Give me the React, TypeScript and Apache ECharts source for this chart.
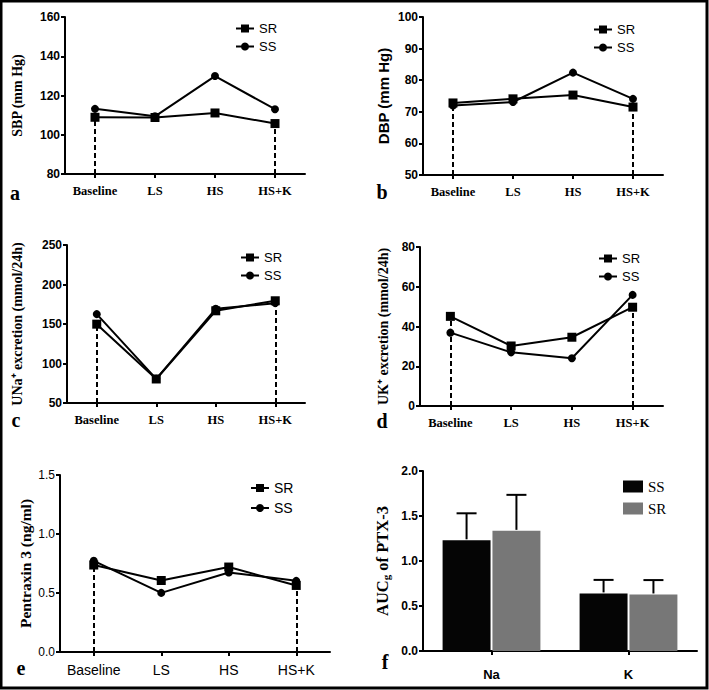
import React, { useEffect, useRef } from "react";
import * as echarts from "echarts";

const categories = ["Baseline", "LS", "HS", "HS+K"];
const sbpSR = [108.9, 108.8, 111.1, 105.7];
const sbpSS = [113.2, 109.4, 129.9, 113.0];
const dbpSR = [72.8, 74.1, 75.3, 71.5];
const dbpSS = [72.0, 73.1, 82.4, 74.1];
const unaSR = [149.8, 80.4, 166.7, 179.4];
const unaSS = [162.5, 80.6, 169.2, 176.4];
const ukSR = [45.1, 30.2, 34.6, 49.7];
const ukSS = [36.9, 27.0, 24.0, 55.9];
const ptxSR = [0.737, 0.606, 0.72, 0.564];
const ptxSS = [0.773, 0.501, 0.674, 0.603];

const aucCategories = ["Na", "K"];
const aucSS = [1.23, 0.64];
const aucSSErr = [0.3, 0.15];
const aucSR = [1.335, 0.628];
const aucSRErr = [0.4, 0.16];

const SERIF = "Liberation Serif, Times New Roman, serif";
const SANS = "Liberation Sans, Arial, sans-serif";

type Panel = {
  grid: { left: number; top: number; width: number; height: number };
  yMin: number;
  yMax: number;
  yInterval: number;
  yName: string;
  yNameFont: string;
  yNameSize: number;
  yNameGap: number;
  tickWeight: string;
  catFont: string;
  catWeight: string;
  catSize: number;
  catMargin: number;
  sr: number[];
  ss: number[];
  legend: { left: number; top: number; gap: number; size: number };
  letter: string;
  letterPos: [number, number];
};

const panels: Panel[] = [
  {
    grid: { left: 65, top: 17, width: 240, height: 157 },
    yMin: 80, yMax: 160, yInterval: 20,
    yName: "SBP (mm Hg)", yNameFont: SERIF, yNameSize: 14, yNameGap: 41,
    tickWeight: "bold",
    catFont: SERIF, catWeight: "bold", catSize: 12.5, catMargin: 10,
    sr: sbpSR, ss: sbpSS,
    legend: { left: 230, top: 17, gap: 5, size: 13 },
    letter: "a", letterPos: [15, 193],
  },
  {
    grid: { left: 423, top: 17, width: 240, height: 158 },
    yMin: 50, yMax: 100, yInterval: 10,
    yName: "DBP (mm Hg)", yNameFont: SANS, yNameSize: 15, yNameGap: 32,
    tickWeight: "bold",
    catFont: SERIF, catWeight: "bold", catSize: 12.5, catMargin: 10,
    sr: dbpSR, ss: dbpSS,
    legend: { left: 588, top: 18, gap: 5, size: 13 },
    letter: "b", letterPos: [382, 192],
  },
  {
    grid: { left: 67, top: 245, width: 238, height: 158 },
    yMin: 50, yMax: 250, yInterval: 50,
    yName: "UNa⁺ excretion (mmol/24h)", yNameFont: SERIF, yNameSize: 14, yNameGap: 43,
    tickWeight: "bold",
    catFont: SERIF, catWeight: "bold", catSize: 12.5, catMargin: 10,
    sr: unaSR, ss: unaSS,
    legend: { left: 235, top: 246, gap: 5, size: 13 },
    letter: "c", letterPos: [16, 420],
  },
  {
    grid: { left: 420, top: 247, width: 243, height: 159 },
    yMin: 0, yMax: 80, yInterval: 20,
    yName: "UK⁺ excretion (mmol/24h)", yNameFont: SERIF, yNameSize: 14, yNameGap: 30,
    tickWeight: "bold",
    catFont: SERIF, catWeight: "bold", catSize: 12.5, catMargin: 10,
    sr: ukSR, ss: ukSS,
    legend: { left: 593, top: 247, gap: 5, size: 13 },
    letter: "d", letterPos: [382, 421],
  },
  {
    grid: { left: 60, top: 475, width: 270, height: 177 },
    yMin: 0, yMax: 1.5, yInterval: 0.5,
    yName: "Pentraxin 3 (ng/ml)", yNameFont: SERIF, yNameSize: 15.5, yNameGap: 27,
    tickWeight: "normal",
    catFont: SANS, catWeight: "normal", catSize: 14, catMargin: 11,
    sr: ptxSR, ss: ptxSS,
    legend: { left: 245, top: 476, gap: 6, size: 14 },
    letter: "e", letterPos: [21, 668],
  },
];

function App() {
  const ref = useRef<HTMLDivElement>(null);
  useEffect(() => {
    if (!ref.current) return;
    const chart = echarts.init(ref.current, null, { renderer: "svg" });

    const grids: any[] = [];
    const xAxes: any[] = [];
    const yAxes: any[] = [];
    const series: any[] = [];
    const legends: any[] = [];
    const graphics: any[] = [];

    const axisLine = { show: true, lineStyle: { color: "#000", width: 2 } };
    const axisTick = { show: true, length: 4, lineStyle: { color: "#000", width: 2 } };

    panels.forEach((p, i) => {
      grids.push({ ...p.grid, containLabel: false });
      xAxes.push({
        type: "category",
        gridIndex: i,
        data: categories,
        boundaryGap: true,
        axisLine,
        axisTick: { ...axisTick, alignWithLabel: true },
        axisLabel: {
          color: "#000",
          fontFamily: p.catFont,
          fontWeight: p.catWeight,
          fontSize: p.catSize,
          margin: p.catMargin,
          interval: 0,
        },
        splitLine: { show: false },
      });
      yAxes.push({
        type: "value",
        gridIndex: i,
        min: p.yMin,
        max: p.yMax,
        interval: p.yInterval,
        axisLine,
        axisTick: { ...axisTick, inside: false },
        axisLabel: {
          color: "#000",
          fontFamily: SANS,
          fontWeight: p.tickWeight,
          fontSize: 12,
          margin: 5,
          formatter: (v: number) => (p.yInterval < 1 ? v.toFixed(1) : String(v)),
        },
        splitLine: { show: false },
        name: p.yName,
        nameLocation: "middle",
        nameGap: p.yNameGap,
        nameRotate: 90,
        nameTextStyle: {
          color: "#000",
          fontFamily: p.yNameFont,
          fontWeight: "bold",
          fontSize: p.yNameSize,
        },
      });
      const last = categories.length - 1;
      series.push({
        type: "line",
        name: "SR",
        xAxisIndex: i,
        yAxisIndex: i,
        data: p.sr,
        symbol: "rect",
        symbolSize: 9,
        itemStyle: { color: "#000" },
        lineStyle: { color: "#000", width: 2 },
        z: 3,
        markLine: {
          silent: true,
          symbol: "none",
          label: { show: false },
          lineStyle: { color: "#000", width: 2, type: [5, 3] },
          z: 1,
          data: [
            [{ coord: [categories[0], p.yMin] }, { coord: [categories[0], p.sr[0]] }],
            [{ coord: [categories[last], p.yMin] }, { coord: [categories[last], p.sr[last]] }],
          ],
        },
      });
      series.push({
        type: "line",
        name: "SS",
        xAxisIndex: i,
        yAxisIndex: i,
        data: p.ss,
        symbol: "circle",
        symbolSize: 8,
        itemStyle: { color: "#000" },
        lineStyle: { color: "#000", width: 2 },
        z: 3,
      });
      legends.push({
        orient: "vertical",
        left: p.legend.left,
        top: p.legend.top,
        itemWidth: 18,
        itemHeight: 10,
        itemGap: p.legend.gap,
        selectedMode: false,
        data: ["SR", "SS"],
        textStyle: {
          color: "#000",
          fontFamily: SANS,
          fontSize: p.legend.size,
          padding: [0, 0, 0, 0],
        },
      });
      graphics.push({
        type: "text",
        x: p.letterPos[0],
        y: p.letterPos[1],
        style: {
          text: p.letter,
          fill: "#000",
          font: `bold 20px ${SERIF}`,
          textAlign: "center",
          textVerticalAlign: "middle",
        },
      });
    });

    // panel f
    const fi = 5;
    grids.push({ left: 423, top: 471, width: 274, height: 180 });
    xAxes.push({
      type: "category",
      gridIndex: fi,
      data: aucCategories,
      axisLine,
      axisTick: { ...axisTick, alignWithLabel: true },
      axisLabel: {
        color: "#000",
        fontFamily: SANS,
        fontWeight: "bold",
        fontSize: 13,
        margin: 17,
      },
    });
    yAxes.push({
      type: "value",
      gridIndex: fi,
      min: 0,
      max: 2,
      interval: 0.5,
      axisLine,
      axisTick,
      axisLabel: {
        color: "#000",
        fontFamily: SANS,
        fontWeight: "bold",
        fontSize: 12,
        margin: 5,
        formatter: (v: number) => v.toFixed(1),
      },
      splitLine: { show: false },
      name: "AUC{sub|g} of PTX-3",
      nameLocation: "middle",
      nameGap: 32,
      nameRotate: 90,
      nameTextStyle: {
        color: "#000",
        fontFamily: SERIF,
        fontWeight: "bold",
        fontSize: 16.5,
        rich: {
          sub: {
            fontFamily: SERIF,
            fontWeight: "bold",
            fontSize: 11,
            color: "#000",
            padding: [6, 0, 0, 0],
          },
        },
      },
    });
    const BAR_W = 0.35;
    const GAP = 0.04;
    series.push({
      type: "bar",
      name: "SS",
      xAxisIndex: fi,
      yAxisIndex: fi,
      data: aucSS,
      barWidth: "35%",
      barGap: "4%",
      itemStyle: { color: "#050505" },
      z: 2,
    });
    series.push({
      type: "bar",
      name: "SR",
      xAxisIndex: fi,
      yAxisIndex: fi,
      data: aucSR,
      barWidth: "35%",
      barGap: "4%",
      itemStyle: { color: "#777777" },
      z: 2,
    });
    const errSeries = (vals: number[], errs: number[], sign: number) => ({
      type: "custom",
      xAxisIndex: fi,
      yAxisIndex: fi,
      z: 4,
      silent: true,
      data: vals.map((v, k) => [k, v, v + errs[k]]),
      renderItem: (params: any, api: any) => {
        const c = api.value(0);
        const base = api.coord([c, api.value(1)]);
        const top = api.coord([c, api.value(2)]);
        const band = api.size([1, 0])[0];
        const x = base[0] + sign * band * BAR_W * (1 + GAP) / 2;
        const cap = band * 0.146;
        return {
          type: "group",
          children: [
            {
              type: "line",
              shape: { x1: x, y1: base[1] - 1, x2: x, y2: top[1] },
              style: { stroke: "#000", lineWidth: 2 },
            },
            {
              type: "line",
              shape: { x1: x - cap / 2, y1: top[1], x2: x + cap / 2, y2: top[1] },
              style: { stroke: "#000", lineWidth: 2 },
            },
          ],
        };
      },
    });
    series.push(errSeries(aucSS, aucSSErr, -1));
    series.push(errSeries(aucSR, aucSRErr, 1));
    legends.push({
      orient: "vertical",
      left: 618,
      top: 474,
      itemWidth: 20,
      itemHeight: 12,
      itemGap: 7,
      selectedMode: false,
      data: [
        { name: "SS", icon: "rect", itemStyle: { color: "#050505" } },
        { name: "SR", icon: "rect", itemStyle: { color: "#777777" } },
      ],
      textStyle: { color: "#000", fontFamily: SERIF, fontSize: 15, padding: [0, 0, 0, 0] },
    });
    graphics.push({
      type: "text",
      x: 385,
      y: 662,
      style: {
        text: "f",
        fill: "#000",
        font: `bold 20px ${SERIF}`,
        textAlign: "center",
        textVerticalAlign: "middle",
      },
    });
    graphics.push({
      type: "rect",
      shape: { x: 1, y: 1, width: 706, height: 687 },
      style: { fill: "none", stroke: "#000", lineWidth: 3 },
      z: 100,
    });

    chart.setOption({
      animation: false,
      backgroundColor: "#fff",
      grid: grids,
      xAxis: xAxes,
      yAxis: yAxes,
      series,
      legend: legends,
      graphic: graphics,
    });
    return () => chart.dispose();
  }, []);
  return (
    <div
      ref={ref}
      style={{ position: "fixed", left: 0, top: 0, width: 709, height: 690 }}
    />
  );
}

export default App;
